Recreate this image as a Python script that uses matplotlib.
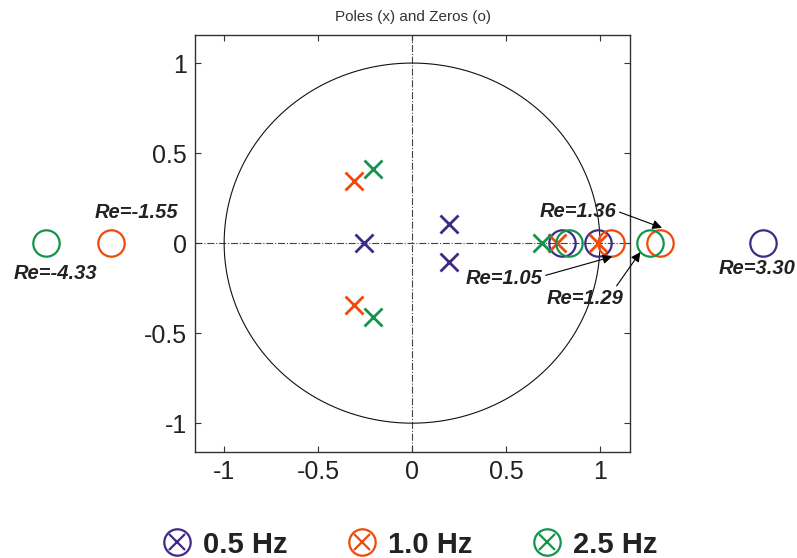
import numpy as np
import matplotlib
matplotlib.use('Agg')
import matplotlib.pyplot as plt
from matplotlib.lines import Line2D
from matplotlib.legend_handler import HandlerTuple

plt.rcParams['font.family'] = ['Liberation Sans', 'DejaVu Sans']

# ---------- données ----------
series = ['0.5 Hz', '1.0 Hz', '2.5 Hz']
colors = ['#3f2b86', '#f04a0a', '#12954a']

pole_re = [[-0.255, 0.195, 0.195], [-0.31, -0.31, 0.77, 0.99], [-0.21, -0.21, 0.69]]
pole_im = [[0.0, 0.107, -0.107], [0.345, -0.345, 0.0, 0.0], [0.41, -0.41, 0.0]]
zero_re = [[0.80, 0.99], [1.06], [0.835]]
zero_im = [[0.0, 0.0], [0.0], [0.0]]

# zéros hors cadre : valeur réelle, abscisse affichée (compressée), série
far_value = [-4.33, -1.55, 3.30, 1.36, 1.29]
far_plotx = [-1.95, -1.60, 1.87, 1.32, 1.265]
far_series = [2, 1, 0, 1, 2]

xticks = [-1, -0.5, 0, 0.5, 1]
yticks = [-1, -0.5, 0, 0.5, 1]

# ---------- figure ----------
fig = plt.figure(figsize=(7.97, 5.58), dpi=100)
ax = fig.add_axes([0.2447, 0.19, 0.5458, 0.747])

t = np.linspace(0, 2 * np.pi, 400)
ax.plot(np.cos(t), np.sin(t), color='#111111', lw=0.8)
ax.axhline(0, color='#444444', lw=0.8, ls='-.', zorder=1)
ax.axvline(0, color='#444444', lw=0.8, ls='-.', zorder=1)

for i in range(3):
    ax.plot(pole_re[i], pole_im[i], 'x', color=colors[i], ms=13, mew=2, ls='none', zorder=3)
    ax.plot(zero_re[i], zero_im[i], 'o', mfc='none', mec=colors[i], ms=19, mew=1.6,
            ls='none', zorder=3)

for v, px, s in zip(far_value, far_plotx, far_series):
    ax.plot([px], [0], 'o', mfc='none', mec=colors[s], ms=19, mew=1.6, clip_on=False, zorder=3)

lab = dict(fontsize=14.5, fontweight='bold', fontstyle='italic', color='#222222')
ax.text(-1.69, 0.172, 'Re=-1.55', ha='left', va='center', **lab)
ax.text(-2.12, -0.167, 'Re=-4.33', ha='left', va='center', **lab)
ax.text(1.63, -0.139, 'Re=3.30', ha='left', va='center', **lab)

arr = dict(arrowstyle='-|>', color='black', lw=0.8, mutation_scale=14, shrinkA=0, shrinkB=0)
ax.annotate('Re=1.36', xy=(1.33, 0.085), xytext=(0.68, 0.178), ha='left', va='center',
            arrowprops=dict(relpos=(1, 0.5), **arr), annotation_clip=False, **lab)
ax.annotate('Re=1.05', xy=(1.065, -0.075), xytext=(0.287, -0.194), ha='left', va='center',
            arrowprops=dict(relpos=(1, 0.6), **arr), annotation_clip=False, **lab)
ax.annotate('Re=1.29', xy=(1.215, -0.05), xytext=(0.718, -0.306), ha='left', va='center',
            arrowprops=dict(relpos=(0.88, 1.0), **arr), annotation_clip=False, **lab)

ax.set_xlim(-1.155, 1.16)
ax.set_ylim(-1.16, 1.155)
ax.set_xticks(xticks)
ax.set_yticks(yticks)
ax.set_xticklabels(['-1', '-0.5', '0', '0.5', '1'])
ax.set_yticklabels(['-1', '-0.5', '0', '0.5', '1'])
ax.tick_params(direction='in', length=4, width=0.8, top=True, right=True,
               labelsize=18, colors='#333333', labelcolor='#222222', pad=6)
for sp in ax.spines.values():
    sp.set_color('#333333'); sp.set_linewidth(1.0)
ax.set_title('Poles (x) and Zeros (o)', fontsize=11, color='#333333', pad=10)

# légende : cercle + croix superposés
handles = []
for c in colors:
    h_o = Line2D([], [], marker='o', mfc='none', mec=c, ms=19, mew=1.6, ls='none')
    h_x = Line2D([], [], marker='x', color=c, ms=11, mew=1.6, ls='none')
    handles.append((h_o, h_x))
fig.legend(handles, series, handler_map={tuple: HandlerTuple(ndivide=1)},
           loc='center', bbox_to_anchor=(0.513, 0.024), ncol=3, frameon=False,
           prop=dict(size=21, weight='bold'), handletextpad=0.35, columnspacing=2.0,
           handlelength=1.1, labelcolor='#222222')

fig.savefig('out.png', dpi=100)
